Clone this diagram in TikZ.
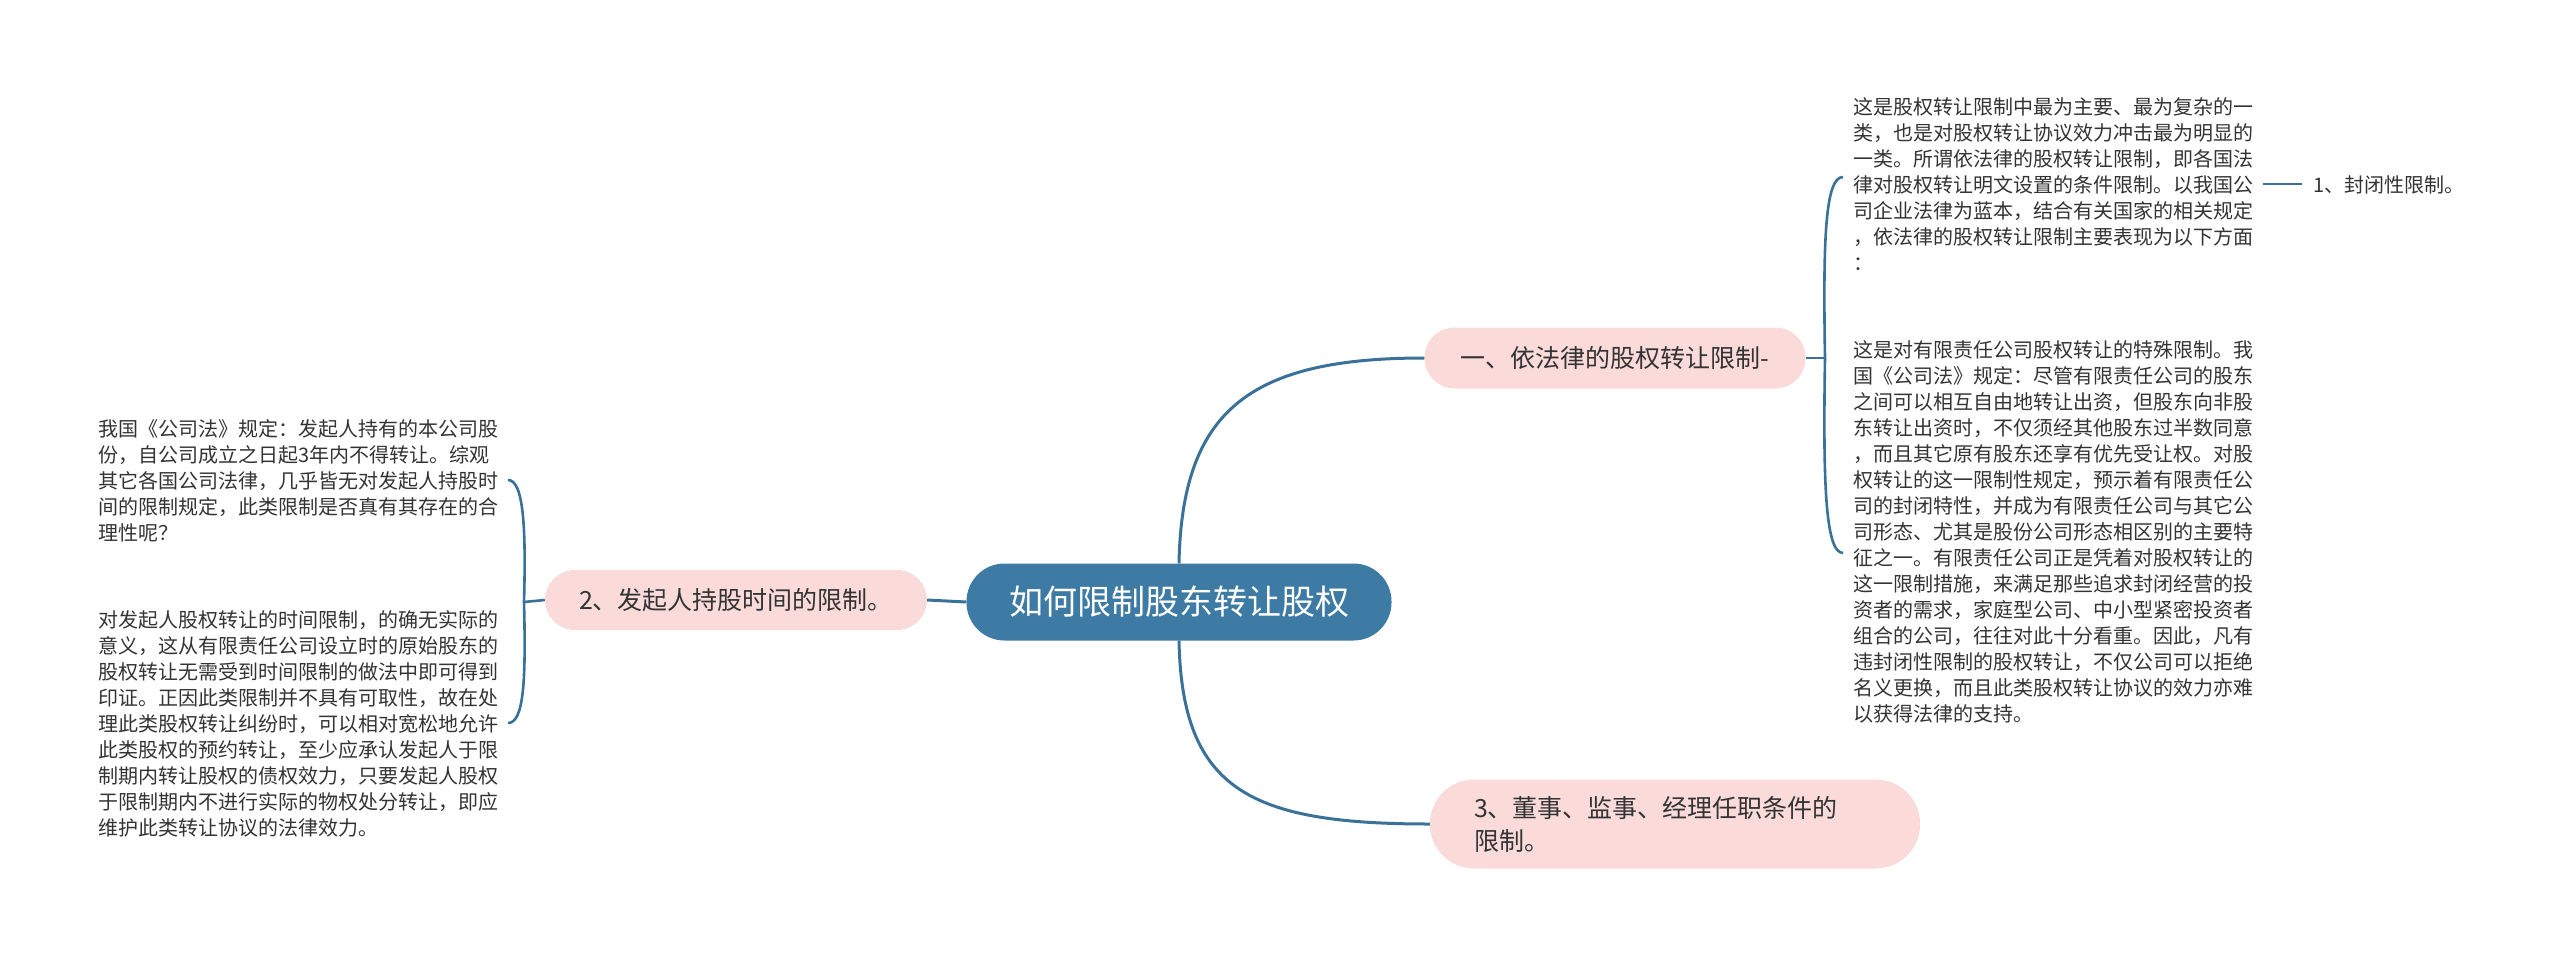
\documentclass[tikz,border=0pt]{standalone}
\usepackage{fontspec}
\setmainfont{Noto Sans CJK SC}
\definecolor{rootblue}{HTML}{3D7BA4}
\definecolor{linec}{HTML}{3A7199}
\definecolor{pinkf}{HTML}{FADBDA}
\definecolor{txt}{HTML}{333333}
\begin{document}
\begin{tikzpicture}[x=1pt,y=-1pt,
  conn/.style={draw=linec,line width=3pt},
  br/.style={draw=linec,line width=2.6pt},
  rootbox/.style={fill=rootblue,rounded corners=38pt,minimum width=425pt,minimum height=77pt,inner sep=0pt,font=\fontsize{34}{40}\selectfont,text=white},
  subbox/.style={fill=pinkf,inner sep=0pt,font=\fontsize{25}{33}\selectfont,text=txt},
  body/.style={inner sep=0pt,align=left,anchor=west,font=\fontsize{20}{26}\selectfont,text=txt}]
\useasboundingbox (0,0) rectangle (2560,959);

\node[rootbox] (root) at (1179,602) {如何限制股东转让股权};
\node[subbox,rounded corners=30pt,minimum width=381pt,minimum height=61pt] (n1) at (1615,358) {一、依法律的股权转让限制-};
\node[subbox,rounded corners=30pt,minimum width=382pt,minimum height=60pt] (n2) at (736,600) {2、发起人持股时间的限制。};
\node[subbox,rounded corners=44pt,minimum height=89pt,inner xsep=44pt,text width=402pt,align=left] (n3) at (1675,824) {3、董事、监事、经理任职条件的\\限制。};

\node[body] (t1) at (1853,184) {这是股权转让限制中最为主要、最为复杂的一\\类，也是对股权转让协议效力冲击最为明显的\\一类。所谓依法律的股权转让限制，即各国法\\律对股权转让明文设置的条件限制。以我国公\\司企业法律为蓝本，结合有关国家的相关规定\\，依法律的股权转让限制主要表现为以下方面\\：};
\node[body] (t2) at (1853,532) {这是对有限责任公司股权转让的特殊限制。我\\国《公司法》规定：尽管有限责任公司的股东\\之间可以相互自由地转让出资，但股东向非股\\东转让出资时，不仅须经其他股东过半数同意\\，而且其它原有股东还享有优先受让权。对股\\权转让的这一限制性规定，预示着有限责任公\\司的封闭特性，并成为有限责任公司与其它公\\司形态、尤其是股份公司形态相区别的主要特\\征之一。有限责任公司正是凭着对股权转让的\\这一限制措施，来满足那些追求封闭经营的投\\资者的需求，家庭型公司、中小型紧密投资者\\组合的公司，往往对此十分看重。因此，凡有\\违封闭性限制的股权转让，不仅公司可以拒绝\\名义更换，而且此类股权转让协议的效力亦难\\以获得法律的支持。};
\node[body] (c1) at (2313,185) {1、封闭性限制。};

\node[body] (l1) at (98,481) {我国《公司法》规定：发起人持有的本公司股\\份，自公司成立之日起3年内不得转让。综观\\其它各国公司法律，几乎皆无对发起人持股时\\间的限制规定，此类限制是否真有其存在的合\\理性呢？};
\node[body] (l2) at (98,724) {对发起人股权转让的时间限制，的确无实际的\\意义，这从有限责任公司设立时的原始股东的\\股权转让无需受到时间限制的做法中即可得到\\印证。正因此类限制并不具有可取性，故在处\\理此类股权转让纠纷时，可以相对宽松地允许\\此类股权的预约转让，至少应承认发起人于限\\制期内转让股权的债权效力，只要发起人股权\\于限制期内不进行实际的物权处分转让，即应\\维护此类转让协议的法律效力。};

% main connectors
\draw[conn] (root.north) .. controls (1182,410) and (1250,358) .. (n1.west);
\draw[conn] (root.south) .. controls (1182,790) and (1250,824) .. (n3.west);
\draw[conn] (root.west) -- (n2.east);

% right bracket
\coordinate (rj) at (1825,358);
\coordinate (rt) at (1843,177);
\coordinate (rb) at (1843,553);
\draw[br] (n1.east) -- (rj);
\draw[br] (rj) .. controls (1823,240) and (1825,177) .. (rt);
\draw[br] (rj) .. controls (1823,480) and (1825,553) .. (rb);

% left bracket
\coordinate (lj) at (524,602);
\coordinate (lt) at (508,480);
\coordinate (lb) at (508,723);
\draw[br] (n2.west) -- (lj);
\draw[br] (lj) .. controls (526,530) and (524,480) .. (lt);
\draw[br] (lj) .. controls (526,680) and (524,723) .. (lb);

% link to sub-item
\draw[br,shorten <=10pt,shorten >=11pt] (t1.east) -- (t1.east -| c1.west);
\end{tikzpicture}
\end{document}
